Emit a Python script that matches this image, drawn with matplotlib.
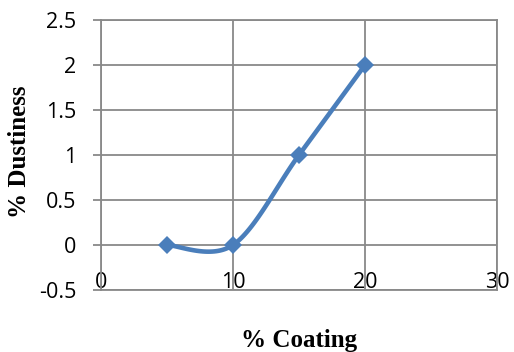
import numpy as np
import matplotlib.pyplot as plt

# dustiness measured at each coating level
coating = [5, 10, 15, 20]
dustiness = [0, 0, 1, 2]

x_ticks = [0, 10, 20, 30]
y_ticks = [-0.5, 0, 0.5, 1, 1.5, 2, 2.5]
y_tick_labels = ['-0.5', '0', '0.5', '1', '1.5', '2', '2.5']

line_color = '#4A7EBB'
grid_color = '#898989'


def smooth_curve(xs, ys, steps=40):
    # cubic bezier through the points, spreadsheet-style smoothing
    pts = np.column_stack([xs, ys]).astype(float)
    out = []
    n = len(pts)
    for i in range(n - 1):
        p0 = pts[max(i - 1, 0)]
        p1 = pts[i]
        p2 = pts[i + 1]
        p3 = pts[min(i + 2, n - 1)]
        c1 = p1 + (p2 - p0) / 6.0
        c2 = p2 - (p3 - p1) / 6.0
        t = np.linspace(0, 1, steps)[:, None]
        seg = ((1 - t) ** 3) * p1 + 3 * ((1 - t) ** 2) * t * c1 + 3 * (1 - t) * t ** 2 * c2 + t ** 3 * p2
        out.append(seg if i == 0 else seg[1:])
    seg = np.vstack(out)
    return seg[:, 0], seg[:, 1]


fig = plt.figure(figsize=(5.14, 3.52), dpi=100)
ax = fig.add_axes([101 / 514, 62 / 352, 396 / 514, 270 / 352])

sx, sy = smooth_curve(coating, dustiness)
ax.plot(sx, sy, color=line_color, linewidth=3.3, solid_capstyle='round', zorder=3)
ax.plot(coating, dustiness, linestyle='none', marker='D', markersize=9,
        color=line_color, markeredgewidth=0, zorder=4)

ax.set_xlim(0, 30)
ax.set_ylim(-0.5, 2.5)
ax.set_xticks(x_ticks)
ax.set_xticklabels([str(v) for v in x_ticks])
ax.set_yticks(y_ticks)
ax.set_yticklabels(y_tick_labels)

ax.grid(True, color=grid_color, linewidth=1.3)
ax.set_axisbelow(True)
for side in ['top', 'right', 'bottom', 'left']:
    ax.spines[side].set_color(grid_color)
    ax.spines[side].set_linewidth(1.3)

tick_font = 'Open Sans'
ax.tick_params(axis='y', length=6, width=1.3, color=grid_color, pad=12,
               labelsize=15.5)
ax.tick_params(axis='x', length=0, pad=-13, labelsize=15.5)
for lbl in ax.get_xticklabels() + ax.get_yticklabels():
    lbl.set_fontfamily(tick_font)

# axis titles placed in figure pixels
fig.text(299 / 514, 1 - 340 / 352, '% Coating', fontfamily='Liberation Serif',
         fontweight='bold', fontsize=18, ha='center', va='center')
fig.text(20 / 514, 1 - 152 / 352, '% Dustiness', fontfamily='Liberation Serif',
         fontweight='bold', fontsize=18, ha='center', va='center', rotation=90)

fig.savefig('out.png', dpi=100)
